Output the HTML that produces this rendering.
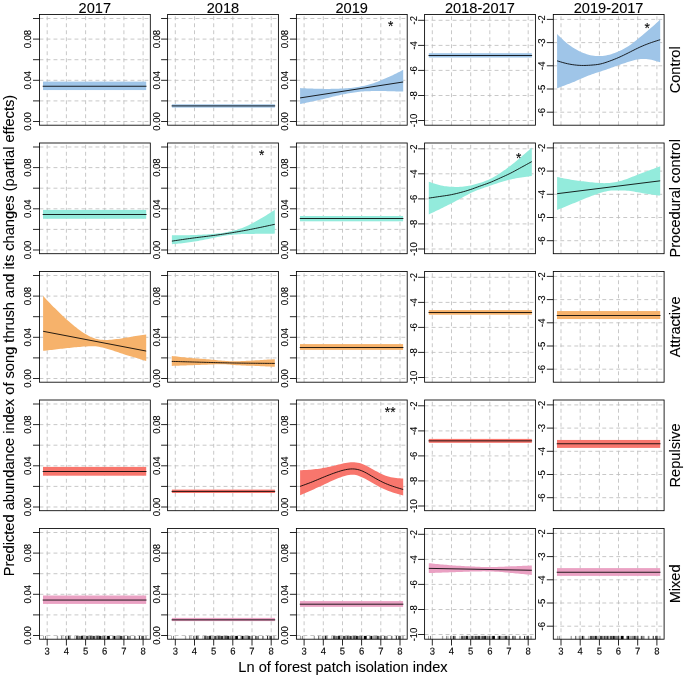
<!DOCTYPE html>
<html lang="en">
<head>
<meta charset="utf-8">
<title>Predicted abundance index of song thrush</title>
<style>
html,body{margin:0;padding:0;background:#fff;}
svg{display:block;}
text{font-family:"Liberation Sans",Arial,Helvetica,sans-serif;fill:#000;}
.t{font-size:15.1px;text-anchor:middle;stroke:#000;stroke-width:0.1;}
.a{font-size:10px;text-anchor:middle;stroke:#000;stroke-width:0.12;}
.g{stroke:#bebebe;stroke-width:0.85;stroke-dasharray:3.9 3.1;fill:none;}
.b{stroke:#000;stroke-width:0.85;fill:none;}
.k{stroke:#000;stroke-width:0.85;fill:none;}
.l{stroke:#000;stroke-width:0.85;fill:none;stroke-linejoin:round;}
</style>
</head>
<body>
<svg width="685" height="677" viewBox="0 0 685 677">
<rect width="685" height="677" fill="#fff"/>
<g>
<path class="g" d="M47.2,125.2 V14.5 M66.4,125.2 V14.5 M85.6,125.2 V14.5 M104.7,125.2 V14.5 M123.9,125.2 V14.5 M143.1,125.2 V14.5 M39.5,18.5 H150.3 M39.5,39.1 H150.3 M39.5,59.7 H150.3 M39.5,80.3 H150.3 M39.5,100.9 H150.3 M39.5,121.5 H150.3"/>
<rect x="43.0" y="81.60" width="103.2" height="8.45" fill="#9fc5e8"/>
<path class="l" d="M42.7,86.25 L146.5,86.25"/>
<rect class="b" x="39.5" y="14.5" width="110.8" height="110.7"/>
<path class="k" d="M33.0,18.5 H39.5 M33.0,39.1 H39.5 M33.0,59.7 H39.5 M33.0,80.3 H39.5 M33.0,100.9 H39.5 M33.0,121.5 H39.5"/>
<text class="a" transform="translate(30.9,39.1) rotate(-89.9) scale(0.948,1)">0.08</text>
<text class="a" transform="translate(30.9,80.3) rotate(-89.9) scale(0.948,1)">0.04</text>
<text class="a" transform="translate(30.9,121.5) rotate(-89.9) scale(0.948,1)">0.00</text>
<text class="t" transform="translate(94.8,12.9) scale(0.967,1)">2017</text>
</g>
<g>
<path class="g" d="M175.3,125.2 V14.5 M194.5,125.2 V14.5 M213.7,125.2 V14.5 M232.8,125.2 V14.5 M252.0,125.2 V14.5 M271.2,125.2 V14.5 M167.6,18.5 H278.4 M167.6,39.1 H278.4 M167.6,59.7 H278.4 M167.6,80.3 H278.4 M167.6,100.9 H278.4 M167.6,121.5 H278.4"/>
<rect x="171.9" y="104.30" width="103.0" height="3.30" fill="#9fc5e8"/>
<path class="l" d="M171.6,105.90 L275.2,105.90"/>
<rect class="b" x="167.6" y="14.5" width="110.8" height="110.7"/>
<path class="k" d="M161.1,18.5 H167.6 M161.1,39.1 H167.6 M161.1,59.7 H167.6 M161.1,80.3 H167.6 M161.1,100.9 H167.6 M161.1,121.5 H167.6"/>
<text class="a" transform="translate(159.9,39.1) rotate(-89.9) scale(0.948,1)">0.08</text>
<text class="a" transform="translate(159.9,80.3) rotate(-89.9) scale(0.948,1)">0.04</text>
<text class="a" transform="translate(159.9,121.5) rotate(-89.9) scale(0.948,1)">0.00</text>
<text class="t" transform="translate(222.9,12.9) scale(0.967,1)">2018</text>
</g>
<g>
<path class="g" d="M304.1,125.2 V14.5 M323.3,125.2 V14.5 M342.5,125.2 V14.5 M361.6,125.2 V14.5 M380.8,125.2 V14.5 M400.0,125.2 V14.5 M296.4,18.5 H407.2 M296.4,39.1 H407.2 M296.4,59.7 H407.2 M296.4,80.3 H407.2 M296.4,100.9 H407.2 M296.4,121.5 H407.2"/>
<path fill="#9fc5e8" d="M300.1,88.11 L301.8,88.19 L303.6,88.26 L305.3,88.34 L307.0,88.41 L308.8,88.48 L310.5,88.54 L312.3,88.61 L314.0,88.66 L315.8,88.72 L317.5,88.76 L319.3,88.80 L321.0,88.84 L322.8,88.86 L324.5,88.88 L326.3,88.89 L328.0,88.89 L329.8,88.88 L331.5,88.86 L333.3,88.83 L335.0,88.79 L336.8,88.74 L338.5,88.68 L340.3,88.60 L342.0,88.52 L343.8,88.43 L345.5,88.32 L347.2,88.20 L349.0,88.06 L350.7,87.90 L352.5,87.71 L354.2,87.49 L356.0,87.24 L357.7,86.98 L359.5,86.68 L361.2,86.37 L363.0,86.03 L364.7,85.66 L366.5,85.26 L368.2,84.83 L370.0,84.35 L371.7,83.82 L373.5,83.24 L375.2,82.61 L377.0,81.95 L378.7,81.26 L380.5,80.55 L382.2,79.83 L383.9,79.09 L385.7,78.34 L387.4,77.57 L389.2,76.78 L390.9,75.97 L392.7,75.14 L394.4,74.29 L396.2,73.43 L397.9,72.55 L399.7,71.66 L401.4,70.77 L403.2,69.87 L403.2,91.61 L401.4,91.56 L399.7,91.52 L397.9,91.47 L396.2,91.42 L394.4,91.37 L392.7,91.31 L390.9,91.26 L389.2,91.20 L387.4,91.15 L385.7,91.09 L383.9,91.05 L382.2,91.02 L380.5,90.99 L378.7,90.99 L377.0,90.99 L375.2,91.01 L373.5,91.05 L371.7,91.08 L370.0,91.13 L368.2,91.19 L366.5,91.26 L364.7,91.35 L363.0,91.46 L361.2,91.60 L359.5,91.77 L357.7,91.96 L356.0,92.18 L354.2,92.43 L352.5,92.69 L350.7,92.97 L349.0,93.27 L347.2,93.58 L345.5,93.91 L343.8,94.25 L342.0,94.61 L340.3,94.99 L338.5,95.38 L336.8,95.78 L335.0,96.19 L333.3,96.61 L331.5,97.03 L329.8,97.45 L328.0,97.88 L326.3,98.30 L324.5,98.72 L322.8,99.13 L321.0,99.53 L319.3,99.93 L317.5,100.33 L315.8,100.72 L314.0,101.10 L312.3,101.48 L310.5,101.86 L308.8,102.23 L307.0,102.60 L305.3,102.96 L303.6,103.33 L301.8,103.69 L300.1,104.05 Z"/>
<path class="l" d="M300.1,97.91 L403.2,81.97"/>
<rect class="b" x="296.4" y="14.5" width="110.8" height="110.7"/>
<path class="k" d="M289.9,18.5 H296.4 M289.9,39.1 H296.4 M289.9,59.7 H296.4 M289.9,80.3 H296.4 M289.9,100.9 H296.4 M289.9,121.5 H296.4"/>
<text class="a" transform="translate(288.1,39.1) rotate(-89.9) scale(0.948,1)">0.08</text>
<text class="a" transform="translate(288.1,80.3) rotate(-89.9) scale(0.948,1)">0.04</text>
<text class="a" transform="translate(288.1,121.5) rotate(-89.9) scale(0.948,1)">0.00</text>
<text class="t" transform="translate(351.7,12.9) scale(0.967,1)">2019</text>
<text class="t" style="font-size:14.2px" transform="translate(390.6,31.1) scale(0.967,1)">*</text>
</g>
<g>
<path class="g" d="M432.3,125.2 V14.5 M451.5,125.2 V14.5 M470.7,125.2 V14.5 M489.8,125.2 V14.5 M509.0,125.2 V14.5 M528.2,125.2 V14.5 M424.6,20.3 H535.5 M424.6,45.4 H535.5 M424.6,70.4 H535.5 M424.6,95.5 H535.5 M424.6,120.5 H535.5"/>
<rect x="428.8" y="53.20" width="103.0" height="4.30" fill="#9fc5e8"/>
<path class="l" d="M428.5,55.50 L532.1,55.50"/>
<rect class="b" x="424.6" y="14.5" width="110.8" height="110.7"/>
<path class="k" d="M418.1,20.3 H424.6 M418.1,45.4 H424.6 M418.1,70.4 H424.6 M418.1,95.5 H424.6 M418.1,120.5 H424.6"/>
<text class="a" transform="translate(416.9,20.3) rotate(-89.9) scale(0.948,1)">-2</text>
<text class="a" transform="translate(416.9,45.4) rotate(-89.9) scale(0.948,1)">-4</text>
<text class="a" transform="translate(416.9,70.4) rotate(-89.9) scale(0.948,1)">-6</text>
<text class="a" transform="translate(416.9,95.5) rotate(-89.9) scale(0.948,1)">-8</text>
<text class="a" transform="translate(416.9,120.5) rotate(-89.9) scale(0.948,1)">-10</text>
<text class="t" transform="translate(479.9,12.9) scale(0.967,1)">2018-2017</text>
</g>
<g>
<path class="g" d="M561.0,125.2 V14.5 M580.2,125.2 V14.5 M599.4,125.2 V14.5 M618.5,125.2 V14.5 M637.7,125.2 V14.5 M656.9,125.2 V14.5 M553.3,19.4 H664.1 M553.3,42.6 H664.1 M553.3,65.8 H664.1 M553.3,89.0 H664.1 M553.3,112.2 H664.1"/>
<path fill="#9fc5e8" d="M557.1,33.96 L558.8,35.70 L560.6,37.42 L562.3,39.09 L564.0,40.70 L565.8,42.22 L567.5,43.64 L569.3,44.97 L571.0,46.22 L572.8,47.39 L574.5,48.50 L576.3,49.53 L578.0,50.50 L579.8,51.39 L581.5,52.21 L583.3,52.95 L585.0,53.61 L586.8,54.20 L588.5,54.70 L590.3,55.13 L592.0,55.47 L593.8,55.74 L595.5,55.92 L597.3,56.03 L599.0,56.06 L600.8,56.01 L602.5,55.89 L604.2,55.69 L606.0,55.42 L607.7,55.07 L609.5,54.65 L611.2,54.15 L613.0,53.59 L614.7,52.96 L616.5,52.27 L618.2,51.54 L620.0,50.75 L621.7,49.92 L623.5,49.03 L625.2,48.07 L627.0,47.03 L628.7,45.91 L630.5,44.70 L632.2,43.42 L634.0,42.07 L635.7,40.69 L637.5,39.28 L639.2,37.86 L640.9,36.44 L642.7,35.01 L644.4,33.56 L646.2,32.10 L647.9,30.61 L649.7,29.10 L651.4,27.55 L653.2,25.99 L654.9,24.40 L656.7,22.79 L658.4,21.18 L660.2,19.56 L660.2,62.19 L658.4,61.68 L656.7,61.18 L654.9,60.70 L653.2,60.26 L651.4,59.87 L649.7,59.53 L647.9,59.26 L646.2,59.06 L644.4,58.94 L642.7,58.92 L640.9,58.99 L639.2,59.16 L637.5,59.42 L635.7,59.76 L634.0,60.18 L632.2,60.66 L630.5,61.18 L628.7,61.73 L627.0,62.30 L625.2,62.88 L623.5,63.47 L621.7,64.07 L620.0,64.69 L618.2,65.31 L616.5,65.93 L614.7,66.57 L613.0,67.20 L611.2,67.83 L609.5,68.46 L607.7,69.07 L606.0,69.68 L604.2,70.28 L602.5,70.87 L600.8,71.45 L599.0,72.01 L597.3,72.56 L595.5,73.12 L593.8,73.69 L592.0,74.29 L590.3,74.92 L588.5,75.58 L586.8,76.28 L585.0,77.00 L583.3,77.75 L581.5,78.52 L579.8,79.30 L578.0,80.09 L576.3,80.87 L574.5,81.63 L572.8,82.36 L571.0,83.05 L569.3,83.71 L567.5,84.35 L565.8,84.99 L564.0,85.63 L562.3,86.29 L560.6,86.96 L558.8,87.63 L557.1,88.31 Z"/>
<path class="l" d="M557.1,60.85 L558.8,61.37 L560.6,61.89 L562.3,62.40 L564.0,62.87 L565.8,63.32 L567.5,63.72 L569.3,64.08 L571.0,64.40 L572.8,64.68 L574.5,64.92 L576.3,65.11 L578.0,65.27 L579.8,65.37 L581.5,65.44 L583.3,65.46 L585.0,65.44 L586.8,65.39 L588.5,65.31 L590.3,65.20 L592.0,65.07 L593.8,64.92 L595.5,64.75 L597.3,64.53 L599.0,64.24 L600.8,63.88 L602.5,63.44 L604.2,62.94 L606.0,62.38 L607.7,61.78 L609.5,61.16 L611.2,60.51 L613.0,59.84 L614.7,59.15 L616.5,58.43 L618.2,57.68 L620.0,56.90 L621.7,56.10 L623.5,55.27 L625.2,54.42 L627.0,53.55 L628.7,52.67 L630.5,51.78 L632.2,50.89 L634.0,50.01 L635.7,49.13 L637.5,48.28 L639.2,47.46 L640.9,46.67 L642.7,45.91 L644.4,45.17 L646.2,44.47 L647.9,43.80 L649.7,43.15 L651.4,42.54 L653.2,41.95 L654.9,41.37 L656.7,40.82 L658.4,40.27 L660.2,39.72"/>
<rect class="b" x="553.3" y="14.5" width="110.8" height="110.7"/>
<path class="k" d="M546.8,19.4 H553.3 M546.8,42.6 H553.3 M546.8,65.8 H553.3 M546.8,89.0 H553.3 M546.8,112.2 H553.3"/>
<text class="a" transform="translate(545.1,19.4) rotate(-89.9) scale(0.948,1)">-2</text>
<text class="a" transform="translate(545.1,42.6) rotate(-89.9) scale(0.948,1)">-3</text>
<text class="a" transform="translate(545.1,65.8) rotate(-89.9) scale(0.948,1)">-4</text>
<text class="a" transform="translate(545.1,89.0) rotate(-89.9) scale(0.948,1)">-5</text>
<text class="a" transform="translate(545.1,112.2) rotate(-89.9) scale(0.948,1)">-6</text>
<text class="t" transform="translate(608.6,12.9) scale(0.967,1)">2019-2017</text>
<text class="t" style="font-size:14.2px" transform="translate(647.2,33.0) scale(0.967,1)">*</text>
<text class="t" transform="translate(679.8,69.8) rotate(-90) scale(0.967,1)">Control</text>
</g>
<g>
<path class="g" d="M47.2,253.7 V143.0 M66.4,253.7 V143.0 M85.6,253.7 V143.0 M104.7,253.7 V143.0 M123.9,253.7 V143.0 M143.1,253.7 V143.0 M39.5,147.0 H150.3 M39.5,167.6 H150.3 M39.5,188.2 H150.3 M39.5,208.8 H150.3 M39.5,229.4 H150.3 M39.5,250.0 H150.3"/>
<rect x="43.0" y="209.90" width="103.2" height="8.90" fill="#93ebdc"/>
<path class="l" d="M42.7,214.50 L146.5,214.50"/>
<rect class="b" x="39.5" y="143.0" width="110.8" height="110.7"/>
<path class="k" d="M33.0,147.0 H39.5 M33.0,167.6 H39.5 M33.0,188.2 H39.5 M33.0,208.8 H39.5 M33.0,229.4 H39.5 M33.0,250.0 H39.5"/>
<text class="a" transform="translate(30.9,167.6) rotate(-89.9) scale(0.948,1)">0.08</text>
<text class="a" transform="translate(30.9,208.8) rotate(-89.9) scale(0.948,1)">0.04</text>
<text class="a" transform="translate(30.9,250.0) rotate(-89.9) scale(0.948,1)">0.00</text>
</g>
<g>
<path class="g" d="M175.3,253.7 V143.0 M194.5,253.7 V143.0 M213.7,253.7 V143.0 M232.8,253.7 V143.0 M252.0,253.7 V143.0 M271.2,253.7 V143.0 M167.6,147.0 H278.4 M167.6,167.6 H278.4 M167.6,188.2 H278.4 M167.6,208.8 H278.4 M167.6,229.4 H278.4 M167.6,250.0 H278.4"/>
<path fill="#93ebdc" d="M171.9,235.20 L173.7,235.21 L175.4,235.21 L177.2,235.21 L178.9,235.21 L180.6,235.21 L182.4,235.20 L184.1,235.19 L185.9,235.18 L187.6,235.15 L189.4,235.13 L191.1,235.09 L192.8,235.05 L194.6,235.00 L196.3,234.93 L198.1,234.86 L199.8,234.79 L201.6,234.70 L203.3,234.60 L205.0,234.50 L206.8,234.39 L208.5,234.27 L210.3,234.14 L212.0,234.00 L213.8,233.86 L215.5,233.71 L217.2,233.54 L219.0,233.36 L220.7,233.15 L222.5,232.92 L224.2,232.65 L226.0,232.34 L227.7,232.00 L229.4,231.62 L231.2,231.21 L232.9,230.79 L234.7,230.35 L236.4,229.89 L238.2,229.39 L239.9,228.83 L241.6,228.20 L243.4,227.52 L245.1,226.78 L246.9,225.99 L248.6,225.16 L250.4,224.30 L252.1,223.41 L253.8,222.49 L255.6,221.55 L257.3,220.59 L259.1,219.60 L260.8,218.59 L262.6,217.56 L264.3,216.50 L266.0,215.42 L267.8,214.32 L269.5,213.20 L271.3,212.08 L273.0,210.94 L274.8,209.80 L274.8,233.61 L273.0,233.63 L271.3,233.65 L269.5,233.66 L267.8,233.69 L266.0,233.71 L264.3,233.73 L262.6,233.76 L260.8,233.78 L259.1,233.81 L257.3,233.83 L255.6,233.86 L253.8,233.88 L252.1,233.89 L250.4,233.91 L248.6,233.92 L246.9,233.94 L245.1,233.97 L243.4,234.01 L241.6,234.07 L239.9,234.15 L238.2,234.26 L236.4,234.40 L234.7,234.55 L232.9,234.72 L231.2,234.90 L229.4,235.09 L227.7,235.30 L226.0,235.54 L224.2,235.81 L222.5,236.10 L220.7,236.42 L219.0,236.75 L217.2,237.10 L215.5,237.45 L213.8,237.82 L212.0,238.18 L210.3,238.54 L208.5,238.90 L206.8,239.26 L205.0,239.61 L203.3,239.95 L201.6,240.29 L199.8,240.61 L198.1,240.93 L196.3,241.23 L194.6,241.52 L192.8,241.79 L191.1,242.05 L189.4,242.30 L187.6,242.54 L185.9,242.76 L184.1,242.97 L182.4,243.18 L180.6,243.38 L178.9,243.57 L177.2,243.76 L175.4,243.94 L173.7,244.12 L171.9,244.30 Z"/>
<path class="l" d="M171.9,241.12 L173.7,240.85 L175.4,240.59 L177.2,240.33 L178.9,240.07 L180.6,239.81 L182.4,239.55 L184.1,239.29 L185.9,239.04 L187.6,238.79 L189.4,238.55 L191.1,238.31 L192.8,238.08 L194.6,237.85 L196.3,237.62 L198.1,237.40 L199.8,237.19 L201.6,236.97 L203.3,236.76 L205.0,236.55 L206.8,236.34 L208.5,236.12 L210.3,235.90 L212.0,235.68 L213.8,235.45 L215.5,235.22 L217.2,234.98 L219.0,234.73 L220.7,234.48 L222.5,234.22 L224.2,233.96 L226.0,233.69 L227.7,233.42 L229.4,233.14 L231.2,232.86 L232.9,232.57 L234.7,232.28 L236.4,231.98 L238.2,231.68 L239.9,231.37 L241.6,231.06 L243.4,230.74 L245.1,230.42 L246.9,230.09 L248.6,229.76 L250.4,229.42 L252.1,229.08 L253.8,228.73 L255.6,228.38 L257.3,228.02 L259.1,227.66 L260.8,227.30 L262.6,226.93 L264.3,226.56 L266.0,226.19 L267.8,225.82 L269.5,225.44 L271.3,225.07 L273.0,224.69 L274.8,224.31"/>
<rect class="b" x="167.6" y="143.0" width="110.8" height="110.7"/>
<path class="k" d="M161.1,147.0 H167.6 M161.1,167.6 H167.6 M161.1,188.2 H167.6 M161.1,208.8 H167.6 M161.1,229.4 H167.6 M161.1,250.0 H167.6"/>
<text class="a" transform="translate(159.9,167.6) rotate(-89.9) scale(0.948,1)">0.08</text>
<text class="a" transform="translate(159.9,208.8) rotate(-89.9) scale(0.948,1)">0.04</text>
<text class="a" transform="translate(159.9,250.0) rotate(-89.9) scale(0.948,1)">0.00</text>
<text class="t" style="font-size:14.2px" transform="translate(261.6,160.1) scale(0.967,1)">*</text>
</g>
<g>
<path class="g" d="M304.1,253.7 V143.0 M323.3,253.7 V143.0 M342.5,253.7 V143.0 M361.6,253.7 V143.0 M380.8,253.7 V143.0 M400.0,253.7 V143.0 M296.4,147.0 H407.2 M296.4,167.6 H407.2 M296.4,188.2 H407.2 M296.4,208.8 H407.2 M296.4,229.4 H407.2 M296.4,250.0 H407.2"/>
<rect x="300.0" y="216.00" width="103.1" height="5.30" fill="#93ebdc"/>
<path class="l" d="M299.7,218.50 L403.4,218.50"/>
<rect class="b" x="296.4" y="143.0" width="110.8" height="110.7"/>
<path class="k" d="M289.9,147.0 H296.4 M289.9,167.6 H296.4 M289.9,188.2 H296.4 M289.9,208.8 H296.4 M289.9,229.4 H296.4 M289.9,250.0 H296.4"/>
<text class="a" transform="translate(288.1,167.6) rotate(-89.9) scale(0.948,1)">0.08</text>
<text class="a" transform="translate(288.1,208.8) rotate(-89.9) scale(0.948,1)">0.04</text>
<text class="a" transform="translate(288.1,250.0) rotate(-89.9) scale(0.948,1)">0.00</text>
</g>
<g>
<path class="g" d="M432.3,253.7 V143.0 M451.5,253.7 V143.0 M470.7,253.7 V143.0 M489.8,253.7 V143.0 M509.0,253.7 V143.0 M528.2,253.7 V143.0 M424.6,148.8 H535.5 M424.6,173.8 H535.5 M424.6,198.9 H535.5 M424.6,223.9 H535.5 M424.6,249.0 H535.5"/>
<path fill="#93ebdc" d="M428.8,181.78 L430.6,182.35 L432.3,182.90 L434.1,183.45 L435.8,183.99 L437.5,184.51 L439.3,184.99 L441.0,185.43 L442.8,185.81 L444.5,186.13 L446.3,186.37 L448.0,186.55 L449.8,186.68 L451.5,186.77 L453.2,186.85 L455.0,186.89 L456.7,186.91 L458.5,186.89 L460.2,186.82 L462.0,186.71 L463.7,186.55 L465.5,186.35 L467.2,186.09 L468.9,185.79 L470.7,185.43 L472.4,185.02 L474.2,184.57 L475.9,184.08 L477.7,183.56 L479.4,183.02 L481.2,182.46 L482.9,181.88 L484.6,181.27 L486.4,180.61 L488.1,179.89 L489.9,179.10 L491.6,178.22 L493.4,177.28 L495.1,176.27 L496.9,175.20 L498.6,174.10 L500.3,172.96 L502.1,171.80 L503.8,170.60 L505.6,169.38 L507.3,168.12 L509.1,166.82 L510.8,165.48 L512.6,164.11 L514.3,162.70 L516.0,161.26 L517.8,159.80 L519.5,158.32 L521.3,156.82 L523.0,155.30 L524.8,153.78 L526.5,152.24 L528.3,150.70 L530.0,149.15 L531.8,147.60 L531.8,176.02 L530.0,176.24 L528.3,176.47 L526.5,176.70 L524.8,176.93 L523.0,177.18 L521.3,177.45 L519.5,177.73 L517.8,178.04 L516.0,178.36 L514.3,178.70 L512.6,179.07 L510.8,179.46 L509.1,179.87 L507.3,180.30 L505.6,180.76 L503.8,181.24 L502.1,181.75 L500.3,182.28 L498.6,182.84 L496.9,183.42 L495.1,184.01 L493.4,184.61 L491.6,185.22 L489.9,185.82 L488.1,186.40 L486.4,186.98 L484.6,187.57 L482.9,188.16 L481.2,188.77 L479.4,189.40 L477.7,190.06 L475.9,190.76 L474.2,191.49 L472.4,192.27 L470.7,193.11 L468.9,193.99 L467.2,194.92 L465.5,195.87 L463.7,196.84 L462.0,197.81 L460.2,198.76 L458.5,199.69 L456.7,200.61 L455.0,201.51 L453.2,202.40 L451.5,203.28 L449.8,204.15 L448.0,205.02 L446.3,205.89 L444.5,206.77 L442.8,207.64 L441.0,208.52 L439.3,209.40 L437.5,210.27 L435.8,211.12 L434.1,211.96 L432.3,212.79 L430.6,213.61 L428.8,214.43 Z"/>
<path class="l" d="M428.8,198.10 L430.6,197.84 L432.3,197.58 L434.1,197.33 L435.8,197.07 L437.5,196.81 L439.3,196.56 L441.0,196.31 L442.8,196.05 L444.5,195.80 L446.3,195.54 L448.0,195.27 L449.8,194.97 L451.5,194.64 L453.2,194.28 L455.0,193.89 L456.7,193.47 L458.5,193.03 L460.2,192.57 L462.0,192.10 L463.7,191.61 L465.5,191.11 L467.2,190.58 L468.9,190.04 L470.7,189.46 L472.4,188.86 L474.2,188.23 L475.9,187.59 L477.7,186.95 L479.4,186.32 L481.2,185.70 L482.9,185.09 L484.6,184.48 L486.4,183.86 L488.1,183.23 L489.9,182.55 L491.6,181.84 L493.4,181.09 L495.1,180.31 L496.9,179.52 L498.6,178.73 L500.3,177.94 L502.1,177.15 L503.8,176.37 L505.6,175.57 L507.3,174.76 L509.1,173.92 L510.8,173.05 L512.6,172.14 L514.3,171.22 L516.0,170.28 L517.8,169.32 L519.5,168.36 L521.3,167.39 L523.0,166.43 L524.8,165.47 L526.5,164.50 L528.3,163.54 L530.0,162.58 L531.8,161.62"/>
<rect class="b" x="424.6" y="143.0" width="110.8" height="110.7"/>
<path class="k" d="M418.1,148.8 H424.6 M418.1,173.8 H424.6 M418.1,198.9 H424.6 M418.1,223.9 H424.6 M418.1,249.0 H424.6"/>
<text class="a" transform="translate(416.9,148.8) rotate(-89.9) scale(0.948,1)">-2</text>
<text class="a" transform="translate(416.9,173.8) rotate(-89.9) scale(0.948,1)">-4</text>
<text class="a" transform="translate(416.9,198.9) rotate(-89.9) scale(0.948,1)">-6</text>
<text class="a" transform="translate(416.9,223.9) rotate(-89.9) scale(0.948,1)">-8</text>
<text class="a" transform="translate(416.9,249.0) rotate(-89.9) scale(0.948,1)">-10</text>
<text class="t" style="font-size:14.2px" transform="translate(518.6,163.0) scale(0.967,1)">*</text>
</g>
<g>
<path class="g" d="M561.0,253.7 V143.0 M580.2,253.7 V143.0 M599.4,253.7 V143.0 M618.5,253.7 V143.0 M637.7,253.7 V143.0 M656.9,253.7 V143.0 M553.3,147.9 H664.1 M553.3,171.1 H664.1 M553.3,194.3 H664.1 M553.3,217.5 H664.1 M553.3,240.7 H664.1"/>
<path fill="#93ebdc" d="M557.1,176.98 L558.8,177.34 L560.6,177.69 L562.3,178.04 L564.0,178.38 L565.8,178.71 L567.5,179.03 L569.3,179.34 L571.0,179.64 L572.8,179.92 L574.5,180.18 L576.3,180.44 L578.0,180.68 L579.8,180.92 L581.5,181.15 L583.3,181.37 L585.0,181.58 L586.8,181.79 L588.5,181.98 L590.3,182.18 L592.0,182.36 L593.8,182.53 L595.5,182.69 L597.3,182.84 L599.0,182.96 L600.8,183.05 L602.5,183.11 L604.2,183.13 L606.0,183.10 L607.7,183.03 L609.5,182.92 L611.2,182.75 L613.0,182.53 L614.7,182.26 L616.5,181.93 L618.2,181.56 L620.0,181.12 L621.7,180.63 L623.5,180.09 L625.2,179.51 L627.0,178.89 L628.7,178.24 L630.5,177.56 L632.2,176.85 L634.0,176.14 L635.7,175.43 L637.5,174.73 L639.2,174.06 L640.9,173.40 L642.7,172.76 L644.4,172.13 L646.2,171.50 L647.9,170.87 L649.7,170.23 L651.4,169.58 L653.2,168.93 L654.9,168.26 L656.7,167.59 L658.4,166.91 L660.2,166.23 L660.2,195.61 L658.4,195.40 L656.7,195.19 L654.9,194.97 L653.2,194.75 L651.4,194.52 L649.7,194.27 L647.9,194.02 L646.2,193.74 L644.4,193.46 L642.7,193.16 L640.9,192.86 L639.2,192.55 L637.5,192.23 L635.7,191.90 L634.0,191.59 L632.2,191.30 L630.5,191.04 L628.7,190.83 L627.0,190.67 L625.2,190.56 L623.5,190.49 L621.7,190.45 L620.0,190.43 L618.2,190.42 L616.5,190.41 L614.7,190.43 L613.0,190.49 L611.2,190.60 L609.5,190.78 L607.7,191.04 L606.0,191.39 L604.2,191.80 L602.5,192.26 L600.8,192.78 L599.0,193.33 L597.3,193.91 L595.5,194.52 L593.8,195.15 L592.0,195.80 L590.3,196.46 L588.5,197.14 L586.8,197.84 L585.0,198.54 L583.3,199.26 L581.5,199.98 L579.8,200.70 L578.0,201.43 L576.3,202.16 L574.5,202.89 L572.8,203.62 L571.0,204.35 L569.3,205.07 L567.5,205.79 L565.8,206.50 L564.0,207.21 L562.3,207.91 L560.6,208.61 L558.8,209.31 L557.1,210.01 Z"/>
<path class="l" d="M557.1,193.69 L660.2,180.82"/>
<rect class="b" x="553.3" y="143.0" width="110.8" height="110.7"/>
<path class="k" d="M546.8,147.9 H553.3 M546.8,171.1 H553.3 M546.8,194.3 H553.3 M546.8,217.5 H553.3 M546.8,240.7 H553.3"/>
<text class="a" transform="translate(545.1,147.9) rotate(-89.9) scale(0.948,1)">-2</text>
<text class="a" transform="translate(545.1,171.1) rotate(-89.9) scale(0.948,1)">-3</text>
<text class="a" transform="translate(545.1,194.3) rotate(-89.9) scale(0.948,1)">-4</text>
<text class="a" transform="translate(545.1,217.5) rotate(-89.9) scale(0.948,1)">-5</text>
<text class="a" transform="translate(545.1,240.7) rotate(-89.9) scale(0.948,1)">-6</text>
<text class="t" transform="translate(679.8,198.3) rotate(-90) scale(0.967,1)">Procedural control</text>
</g>
<g>
<path class="g" d="M47.2,382.2 V271.5 M66.4,382.2 V271.5 M85.6,382.2 V271.5 M104.7,382.2 V271.5 M123.9,382.2 V271.5 M143.1,382.2 V271.5 M39.5,275.5 H150.3 M39.5,296.1 H150.3 M39.5,316.7 H150.3 M39.5,337.3 H150.3 M39.5,357.9 H150.3 M39.5,378.5 H150.3"/>
<path fill="#f6b26b" d="M43.1,295.76 L44.8,297.71 L46.6,299.64 L48.3,301.53 L50.0,303.37 L51.8,305.15 L53.5,306.89 L55.3,308.61 L57.0,310.32 L58.8,312.03 L60.5,313.74 L62.3,315.43 L64.0,317.10 L65.8,318.74 L67.5,320.32 L69.3,321.86 L71.0,323.35 L72.8,324.80 L74.5,326.21 L76.3,327.59 L78.0,328.92 L79.8,330.21 L81.5,331.45 L83.3,332.63 L85.0,333.75 L86.8,334.79 L88.5,335.76 L90.2,336.63 L92.0,337.41 L93.7,338.08 L95.5,338.64 L97.2,339.09 L99.0,339.43 L100.7,339.67 L102.5,339.83 L104.2,339.92 L106.0,339.93 L107.7,339.90 L109.5,339.81 L111.2,339.68 L113.0,339.52 L114.7,339.33 L116.5,339.12 L118.2,338.89 L120.0,338.64 L121.7,338.38 L123.5,338.11 L125.2,337.83 L126.9,337.54 L128.7,337.24 L130.4,336.94 L132.2,336.65 L133.9,336.36 L135.7,336.08 L137.4,335.81 L139.2,335.54 L140.9,335.29 L142.7,335.04 L144.4,334.80 L146.2,334.55 L146.2,361.05 L144.4,360.50 L142.7,359.95 L140.9,359.41 L139.2,358.87 L137.4,358.33 L135.7,357.81 L133.9,357.29 L132.2,356.78 L130.4,356.27 L128.7,355.76 L126.9,355.23 L125.2,354.69 L123.5,354.12 L121.7,353.54 L120.0,352.94 L118.2,352.33 L116.5,351.73 L114.7,351.14 L113.0,350.57 L111.2,350.02 L109.5,349.49 L107.7,348.98 L106.0,348.49 L104.2,348.01 L102.5,347.55 L100.7,347.13 L99.0,346.77 L97.2,346.48 L95.5,346.28 L93.7,346.19 L92.0,346.19 L90.2,346.24 L88.5,346.31 L86.8,346.40 L85.0,346.51 L83.3,346.62 L81.5,346.75 L79.8,346.89 L78.0,347.03 L76.3,347.19 L74.5,347.35 L72.8,347.52 L71.0,347.70 L69.3,347.88 L67.5,348.07 L65.8,348.27 L64.0,348.47 L62.3,348.67 L60.5,348.87 L58.8,349.08 L57.0,349.29 L55.3,349.49 L53.5,349.69 L51.8,349.90 L50.0,350.09 L48.3,350.29 L46.6,350.49 L44.8,350.68 L43.1,350.87 Z"/>
<path class="l" d="M43.1,331.29 L146.2,351.07"/>
<rect class="b" x="39.5" y="271.5" width="110.8" height="110.7"/>
<path class="k" d="M33.0,275.5 H39.5 M33.0,296.1 H39.5 M33.0,316.7 H39.5 M33.0,337.3 H39.5 M33.0,357.9 H39.5 M33.0,378.5 H39.5"/>
<text class="a" transform="translate(30.9,296.1) rotate(-89.9) scale(0.948,1)">0.08</text>
<text class="a" transform="translate(30.9,337.3) rotate(-89.9) scale(0.948,1)">0.04</text>
<text class="a" transform="translate(30.9,378.5) rotate(-89.9) scale(0.948,1)">0.00</text>
</g>
<g>
<path class="g" d="M175.3,382.2 V271.5 M194.5,382.2 V271.5 M213.7,382.2 V271.5 M232.8,382.2 V271.5 M252.0,382.2 V271.5 M271.2,382.2 V271.5 M167.6,275.5 H278.4 M167.6,296.1 H278.4 M167.6,316.7 H278.4 M167.6,337.3 H278.4 M167.6,357.9 H278.4 M167.6,378.5 H278.4"/>
<path fill="#f6b26b" d="M171.8,355.96 L173.6,356.16 L175.3,356.36 L177.1,356.56 L178.8,356.75 L180.5,356.94 L182.3,357.13 L184.0,357.32 L185.8,357.50 L187.5,357.67 L189.3,357.84 L191.0,358.01 L192.8,358.16 L194.5,358.31 L196.2,358.45 L198.0,358.58 L199.7,358.71 L201.5,358.83 L203.2,358.96 L205.0,359.09 L206.7,359.22 L208.5,359.36 L210.2,359.51 L211.9,359.67 L213.7,359.84 L215.4,360.03 L217.2,360.22 L218.9,360.40 L220.7,360.58 L222.4,360.73 L224.2,360.86 L225.9,360.97 L227.6,361.06 L229.4,361.13 L231.1,361.18 L232.9,361.20 L234.6,361.21 L236.4,361.20 L238.1,361.17 L239.9,361.13 L241.6,361.07 L243.3,361.00 L245.1,360.92 L246.8,360.83 L248.6,360.74 L250.3,360.64 L252.1,360.54 L253.8,360.44 L255.6,360.33 L257.3,360.23 L259.0,360.13 L260.8,360.03 L262.5,359.93 L264.3,359.82 L266.0,359.72 L267.8,359.62 L269.5,359.52 L271.3,359.41 L273.0,359.31 L274.8,359.21 L274.8,366.81 L273.0,366.73 L271.3,366.64 L269.5,366.55 L267.8,366.47 L266.0,366.39 L264.3,366.30 L262.5,366.22 L260.8,366.15 L259.0,366.07 L257.3,366.00 L255.6,365.93 L253.8,365.86 L252.1,365.80 L250.3,365.74 L248.6,365.68 L246.8,365.63 L245.1,365.56 L243.3,365.50 L241.6,365.43 L239.9,365.35 L238.1,365.25 L236.4,365.15 L234.6,365.03 L232.9,364.89 L231.1,364.74 L229.4,364.59 L227.6,364.46 L225.9,364.36 L224.2,364.29 L222.4,364.26 L220.7,364.25 L218.9,364.27 L217.2,364.30 L215.4,364.34 L213.7,364.40 L211.9,364.46 L210.2,364.52 L208.5,364.58 L206.7,364.64 L205.0,364.71 L203.2,364.77 L201.5,364.84 L199.7,364.90 L198.0,364.97 L196.2,365.04 L194.5,365.10 L192.8,365.17 L191.0,365.23 L189.3,365.30 L187.5,365.36 L185.8,365.42 L184.0,365.48 L182.3,365.55 L180.5,365.61 L178.8,365.67 L177.1,365.73 L175.3,365.79 L173.6,365.85 L171.8,365.91 Z"/>
<path class="l" d="M171.8,361.40 L173.6,361.45 L175.3,361.50 L177.1,361.54 L178.8,361.59 L180.5,361.64 L182.3,361.69 L184.0,361.74 L185.8,361.79 L187.5,361.84 L189.3,361.89 L191.0,361.94 L192.8,361.99 L194.5,362.04 L196.2,362.09 L198.0,362.14 L199.7,362.19 L201.5,362.24 L203.2,362.28 L205.0,362.33 L206.7,362.38 L208.5,362.43 L210.2,362.48 L211.9,362.52 L213.7,362.57 L215.4,362.61 L217.2,362.65 L218.9,362.70 L220.7,362.74 L222.4,362.78 L224.2,362.81 L225.9,362.85 L227.6,362.88 L229.4,362.92 L231.1,362.95 L232.9,362.98 L234.6,363.01 L236.4,363.04 L238.1,363.06 L239.9,363.09 L241.6,363.11 L243.3,363.14 L245.1,363.16 L246.8,363.18 L248.6,363.20 L250.3,363.22 L252.1,363.23 L253.8,363.25 L255.6,363.27 L257.3,363.28 L259.0,363.30 L260.8,363.31 L262.5,363.33 L264.3,363.34 L266.0,363.35 L267.8,363.37 L269.5,363.38 L271.3,363.39 L273.0,363.40 L274.8,363.41"/>
<rect class="b" x="167.6" y="271.5" width="110.8" height="110.7"/>
<path class="k" d="M161.1,275.5 H167.6 M161.1,296.1 H167.6 M161.1,316.7 H167.6 M161.1,337.3 H167.6 M161.1,357.9 H167.6 M161.1,378.5 H167.6"/>
<text class="a" transform="translate(159.9,296.1) rotate(-89.9) scale(0.948,1)">0.08</text>
<text class="a" transform="translate(159.9,337.3) rotate(-89.9) scale(0.948,1)">0.04</text>
<text class="a" transform="translate(159.9,378.5) rotate(-89.9) scale(0.948,1)">0.00</text>
</g>
<g>
<path class="g" d="M304.1,382.2 V271.5 M323.3,382.2 V271.5 M342.5,382.2 V271.5 M361.6,382.2 V271.5 M380.8,382.2 V271.5 M400.0,382.2 V271.5 M296.4,275.5 H407.2 M296.4,296.1 H407.2 M296.4,316.7 H407.2 M296.4,337.3 H407.2 M296.4,357.9 H407.2 M296.4,378.5 H407.2"/>
<rect x="300.0" y="344.10" width="103.1" height="5.75" fill="#f6b26b"/>
<path class="l" d="M299.7,347.50 L403.4,347.50"/>
<rect class="b" x="296.4" y="271.5" width="110.8" height="110.7"/>
<path class="k" d="M289.9,275.5 H296.4 M289.9,296.1 H296.4 M289.9,316.7 H296.4 M289.9,337.3 H296.4 M289.9,357.9 H296.4 M289.9,378.5 H296.4"/>
<text class="a" transform="translate(288.1,296.1) rotate(-89.9) scale(0.948,1)">0.08</text>
<text class="a" transform="translate(288.1,337.3) rotate(-89.9) scale(0.948,1)">0.04</text>
<text class="a" transform="translate(288.1,378.5) rotate(-89.9) scale(0.948,1)">0.00</text>
</g>
<g>
<path class="g" d="M432.3,382.2 V271.5 M451.5,382.2 V271.5 M470.7,382.2 V271.5 M489.8,382.2 V271.5 M509.0,382.2 V271.5 M528.2,382.2 V271.5 M424.6,277.3 H535.5 M424.6,302.4 H535.5 M424.6,327.4 H535.5 M424.6,352.4 H535.5 M424.6,377.5 H535.5"/>
<rect x="428.8" y="310.10" width="103.0" height="4.60" fill="#f6b26b"/>
<path class="l" d="M428.5,312.50 L532.1,312.50"/>
<rect class="b" x="424.6" y="271.5" width="110.8" height="110.7"/>
<path class="k" d="M418.1,277.3 H424.6 M418.1,302.4 H424.6 M418.1,327.4 H424.6 M418.1,352.4 H424.6 M418.1,377.5 H424.6"/>
<text class="a" transform="translate(416.9,277.3) rotate(-89.9) scale(0.948,1)">-2</text>
<text class="a" transform="translate(416.9,302.4) rotate(-89.9) scale(0.948,1)">-4</text>
<text class="a" transform="translate(416.9,327.4) rotate(-89.9) scale(0.948,1)">-6</text>
<text class="a" transform="translate(416.9,352.4) rotate(-89.9) scale(0.948,1)">-8</text>
<text class="a" transform="translate(416.9,377.5) rotate(-89.9) scale(0.948,1)">-10</text>
</g>
<g>
<path class="g" d="M561.0,382.2 V271.5 M580.2,382.2 V271.5 M599.4,382.2 V271.5 M618.5,382.2 V271.5 M637.7,382.2 V271.5 M656.9,382.2 V271.5 M553.3,276.4 H664.1 M553.3,299.6 H664.1 M553.3,322.8 H664.1 M553.3,346.0 H664.1 M553.3,369.2 H664.1"/>
<rect x="557.0" y="311.05" width="103.2" height="8.00" fill="#f6b26b"/>
<path class="l" d="M556.7,315.50 L660.5,315.50"/>
<rect class="b" x="553.3" y="271.5" width="110.8" height="110.7"/>
<path class="k" d="M546.8,276.4 H553.3 M546.8,299.6 H553.3 M546.8,322.8 H553.3 M546.8,346.0 H553.3 M546.8,369.2 H553.3"/>
<text class="a" transform="translate(545.1,276.4) rotate(-89.9) scale(0.948,1)">-2</text>
<text class="a" transform="translate(545.1,299.6) rotate(-89.9) scale(0.948,1)">-3</text>
<text class="a" transform="translate(545.1,322.8) rotate(-89.9) scale(0.948,1)">-4</text>
<text class="a" transform="translate(545.1,346.0) rotate(-89.9) scale(0.948,1)">-5</text>
<text class="a" transform="translate(545.1,369.2) rotate(-89.9) scale(0.948,1)">-6</text>
<text class="t" transform="translate(679.8,326.9) rotate(-90) scale(0.967,1)">Attractive</text>
</g>
<g>
<path class="g" d="M47.2,510.7 V400.0 M66.4,510.7 V400.0 M85.6,510.7 V400.0 M104.7,510.7 V400.0 M123.9,510.7 V400.0 M143.1,510.7 V400.0 M39.5,404.0 H150.3 M39.5,424.6 H150.3 M39.5,445.2 H150.3 M39.5,465.8 H150.3 M39.5,486.4 H150.3 M39.5,507.0 H150.3"/>
<rect x="43.0" y="466.90" width="103.2" height="8.80" fill="#f8766d"/>
<path class="l" d="M42.7,471.50 L146.5,471.50"/>
<rect class="b" x="39.5" y="400.0" width="110.8" height="110.7"/>
<path class="k" d="M33.0,404.0 H39.5 M33.0,424.6 H39.5 M33.0,445.2 H39.5 M33.0,465.8 H39.5 M33.0,486.4 H39.5 M33.0,507.0 H39.5"/>
<text class="a" transform="translate(30.9,424.6) rotate(-89.9) scale(0.948,1)">0.08</text>
<text class="a" transform="translate(30.9,465.8) rotate(-89.9) scale(0.948,1)">0.04</text>
<text class="a" transform="translate(30.9,507.0) rotate(-89.9) scale(0.948,1)">0.00</text>
</g>
<g>
<path class="g" d="M175.3,510.7 V400.0 M194.5,510.7 V400.0 M213.7,510.7 V400.0 M232.8,510.7 V400.0 M252.0,510.7 V400.0 M271.2,510.7 V400.0 M167.6,404.0 H278.4 M167.6,424.6 H278.4 M167.6,445.2 H278.4 M167.6,465.8 H278.4 M167.6,486.4 H278.4 M167.6,507.0 H278.4"/>
<rect x="171.9" y="489.60" width="103.0" height="3.40" fill="#f8766d"/>
<path class="l" d="M171.6,491.40 L275.2,491.40"/>
<rect class="b" x="167.6" y="400.0" width="110.8" height="110.7"/>
<path class="k" d="M161.1,404.0 H167.6 M161.1,424.6 H167.6 M161.1,445.2 H167.6 M161.1,465.8 H167.6 M161.1,486.4 H167.6 M161.1,507.0 H167.6"/>
<text class="a" transform="translate(159.9,424.6) rotate(-89.9) scale(0.948,1)">0.08</text>
<text class="a" transform="translate(159.9,465.8) rotate(-89.9) scale(0.948,1)">0.04</text>
<text class="a" transform="translate(159.9,507.0) rotate(-89.9) scale(0.948,1)">0.00</text>
</g>
<g>
<path class="g" d="M304.1,510.7 V400.0 M323.3,510.7 V400.0 M342.5,510.7 V400.0 M361.6,510.7 V400.0 M380.8,510.7 V400.0 M400.0,510.7 V400.0 M296.4,404.0 H407.2 M296.4,424.6 H407.2 M296.4,445.2 H407.2 M296.4,465.8 H407.2 M296.4,486.4 H407.2 M296.4,507.0 H407.2"/>
<path fill="#f8766d" d="M300.1,470.27 L301.8,470.18 L303.6,470.09 L305.3,469.99 L307.0,469.88 L308.8,469.76 L310.5,469.63 L312.3,469.47 L314.0,469.30 L315.8,469.10 L317.5,468.89 L319.3,468.64 L321.0,468.38 L322.8,468.09 L324.5,467.78 L326.3,467.44 L328.0,467.09 L329.8,466.71 L331.5,466.31 L333.3,465.90 L335.0,465.47 L336.8,465.03 L338.5,464.59 L340.3,464.15 L342.0,463.74 L343.8,463.35 L345.5,462.99 L347.2,462.69 L349.0,462.45 L350.7,462.28 L352.5,462.21 L354.2,462.24 L356.0,462.38 L357.7,462.63 L359.5,463.01 L361.2,463.52 L363.0,464.16 L364.7,464.92 L366.5,465.77 L368.2,466.70 L370.0,467.68 L371.7,468.67 L373.5,469.67 L375.2,470.66 L377.0,471.62 L378.7,472.55 L380.5,473.43 L382.2,474.24 L383.9,474.98 L385.7,475.65 L387.4,476.25 L389.2,476.78 L390.9,477.22 L392.7,477.58 L394.4,477.87 L396.2,478.08 L397.9,478.24 L399.7,478.36 L401.4,478.45 L403.2,478.53 L403.2,495.43 L401.4,494.95 L399.7,494.46 L397.9,493.97 L396.2,493.46 L394.4,492.93 L392.7,492.38 L390.9,491.80 L389.2,491.19 L387.4,490.53 L385.7,489.83 L383.9,489.09 L382.2,488.29 L380.5,487.43 L378.7,486.51 L377.0,485.54 L375.2,484.55 L373.5,483.53 L371.7,482.50 L370.0,481.48 L368.2,480.48 L366.5,479.50 L364.7,478.57 L363.0,477.70 L361.2,476.89 L359.5,476.17 L357.7,475.56 L356.0,475.09 L354.2,474.78 L352.5,474.66 L350.7,474.74 L349.0,474.97 L347.2,475.33 L345.5,475.78 L343.8,476.29 L342.0,476.85 L340.3,477.44 L338.5,478.08 L336.8,478.76 L335.0,479.49 L333.3,480.25 L331.5,481.05 L329.8,481.86 L328.0,482.70 L326.3,483.54 L324.5,484.37 L322.8,485.20 L321.0,486.01 L319.3,486.81 L317.5,487.59 L315.8,488.37 L314.0,489.14 L312.3,489.91 L310.5,490.67 L308.8,491.44 L307.0,492.20 L305.3,492.96 L303.6,493.72 L301.8,494.48 L300.1,495.24 Z"/>
<path class="l" d="M300.1,486.40 L301.8,485.78 L303.6,485.15 L305.3,484.52 L307.0,483.87 L308.8,483.22 L310.5,482.55 L312.3,481.86 L314.0,481.15 L315.8,480.42 L317.5,479.69 L319.3,478.95 L321.0,478.21 L322.8,477.48 L324.5,476.76 L326.3,476.05 L328.0,475.36 L329.8,474.69 L331.5,474.03 L333.3,473.39 L335.0,472.77 L336.8,472.16 L338.5,471.59 L340.3,471.05 L342.0,470.54 L343.8,470.09 L345.5,469.69 L347.2,469.36 L349.0,469.11 L350.7,468.96 L352.5,468.91 L354.2,468.99 L356.0,469.19 L357.7,469.53 L359.5,469.99 L361.2,470.59 L363.0,471.32 L364.7,472.16 L366.5,473.09 L368.2,474.09 L370.0,475.12 L371.7,476.17 L373.5,477.20 L375.2,478.22 L377.0,479.21 L378.7,480.17 L380.5,481.09 L382.2,481.96 L383.9,482.78 L385.7,483.55 L387.4,484.28 L389.2,484.97 L390.9,485.62 L392.7,486.24 L394.4,486.82 L396.2,487.39 L397.9,487.93 L399.7,488.45 L401.4,488.97 L403.2,489.48"/>
<rect class="b" x="296.4" y="400.0" width="110.8" height="110.7"/>
<path class="k" d="M289.9,404.0 H296.4 M289.9,424.6 H296.4 M289.9,445.2 H296.4 M289.9,465.8 H296.4 M289.9,486.4 H296.4 M289.9,507.0 H296.4"/>
<text class="a" transform="translate(288.1,424.6) rotate(-89.9) scale(0.948,1)">0.08</text>
<text class="a" transform="translate(288.1,465.8) rotate(-89.9) scale(0.948,1)">0.04</text>
<text class="a" transform="translate(288.1,507.0) rotate(-89.9) scale(0.948,1)">0.00</text>
<text class="t" style="font-size:14.2px" transform="translate(390.2,417.1) scale(0.967,1)">**</text>
</g>
<g>
<path class="g" d="M432.3,510.7 V400.0 M451.5,510.7 V400.0 M470.7,510.7 V400.0 M489.8,510.7 V400.0 M509.0,510.7 V400.0 M528.2,510.7 V400.0 M424.6,405.8 H535.5 M424.6,430.9 H535.5 M424.6,455.9 H535.5 M424.6,480.9 H535.5 M424.6,506.0 H535.5"/>
<rect x="428.8" y="438.90" width="103.0" height="3.95" fill="#f8766d"/>
<path class="l" d="M428.5,440.85 L532.1,440.85"/>
<rect class="b" x="424.6" y="400.0" width="110.8" height="110.7"/>
<path class="k" d="M418.1,405.8 H424.6 M418.1,430.9 H424.6 M418.1,455.9 H424.6 M418.1,480.9 H424.6 M418.1,506.0 H424.6"/>
<text class="a" transform="translate(416.9,405.8) rotate(-89.9) scale(0.948,1)">-2</text>
<text class="a" transform="translate(416.9,430.9) rotate(-89.9) scale(0.948,1)">-4</text>
<text class="a" transform="translate(416.9,455.9) rotate(-89.9) scale(0.948,1)">-6</text>
<text class="a" transform="translate(416.9,480.9) rotate(-89.9) scale(0.948,1)">-8</text>
<text class="a" transform="translate(416.9,506.0) rotate(-89.9) scale(0.948,1)">-10</text>
</g>
<g>
<path class="g" d="M561.0,510.7 V400.0 M580.2,510.7 V400.0 M599.4,510.7 V400.0 M618.5,510.7 V400.0 M637.7,510.7 V400.0 M656.9,510.7 V400.0 M553.3,404.9 H664.1 M553.3,428.1 H664.1 M553.3,451.3 H664.1 M553.3,474.5 H664.1 M553.3,497.7 H664.1"/>
<rect x="557.0" y="439.95" width="103.2" height="7.95" fill="#f8766d"/>
<path class="l" d="M556.7,443.75 L660.5,443.75"/>
<rect class="b" x="553.3" y="400.0" width="110.8" height="110.7"/>
<path class="k" d="M546.8,404.9 H553.3 M546.8,428.1 H553.3 M546.8,451.3 H553.3 M546.8,474.5 H553.3 M546.8,497.7 H553.3"/>
<text class="a" transform="translate(545.1,404.9) rotate(-89.9) scale(0.948,1)">-2</text>
<text class="a" transform="translate(545.1,428.1) rotate(-89.9) scale(0.948,1)">-3</text>
<text class="a" transform="translate(545.1,451.3) rotate(-89.9) scale(0.948,1)">-4</text>
<text class="a" transform="translate(545.1,474.5) rotate(-89.9) scale(0.948,1)">-5</text>
<text class="a" transform="translate(545.1,497.7) rotate(-89.9) scale(0.948,1)">-6</text>
<text class="t" transform="translate(679.8,455.4) rotate(-90) scale(0.967,1)">Repulsive</text>
</g>
<g>
<path class="g" d="M47.2,639.2 V528.5 M66.4,639.2 V528.5 M85.6,639.2 V528.5 M104.7,639.2 V528.5 M123.9,639.2 V528.5 M143.1,639.2 V528.5 M39.5,532.5 H150.3 M39.5,553.1 H150.3 M39.5,573.7 H150.3 M39.5,594.3 H150.3 M39.5,614.9 H150.3 M39.5,635.5 H150.3"/>
<rect x="43.0" y="595.50" width="103.2" height="8.40" fill="#eaa1c3"/>
<path class="l" d="M42.7,600.05 L146.5,600.05"/>
<rect x="43.2" y="635.9" width="0.7" height="3.3" fill="rgb(128,128,128)"/>
<rect x="45.0" y="635.9" width="0.8" height="3.3" fill="rgb(89,89,89)"/>
<rect x="56.8" y="635.9" width="1.3" height="3.3" fill="rgb(166,166,166)"/>
<rect x="61.3" y="635.9" width="0.8" height="3.3" fill="rgb(89,89,89)"/>
<rect x="62.6" y="635.9" width="0.8" height="3.3" fill="rgb(178,178,178)"/>
<rect x="65.0" y="635.9" width="0.8" height="3.3" fill="rgb(89,89,89)"/>
<rect x="66.0" y="635.9" width="1.5" height="3.3" fill="rgb(178,178,178)"/>
<rect x="68.0" y="635.9" width="1.5" height="3.3" fill="rgb(25,25,25)"/>
<rect x="69.5" y="635.9" width="1.1" height="3.3" fill="rgb(115,115,115)"/>
<rect x="74.1" y="635.9" width="1.3" height="3.3" fill="rgb(191,191,191)"/>
<rect x="76.0" y="635.9" width="2.3" height="3.3" fill="rgb(77,77,77)"/>
<rect x="78.3" y="635.9" width="2.4" height="3.3" fill="rgb(115,115,115)"/>
<rect x="80.9" y="635.9" width="2.2" height="3.3" fill="rgb(25,25,25)"/>
<rect x="83.1" y="635.9" width="2.6" height="3.3" fill="rgb(178,178,178)"/>
<rect x="86.1" y="635.9" width="2.2" height="3.3" fill="rgb(64,64,64)"/>
<rect x="88.3" y="635.9" width="1.3" height="3.3" fill="rgb(115,115,115)"/>
<rect x="89.9" y="635.9" width="1.9" height="3.3" fill="rgb(64,64,64)"/>
<rect x="91.8" y="635.9" width="1.1" height="3.3" fill="rgb(115,115,115)"/>
<rect x="92.9" y="635.9" width="2.0" height="3.3" fill="rgb(51,51,51)"/>
<rect x="94.9" y="635.9" width="1.1" height="3.3" fill="rgb(178,178,178)"/>
<rect x="96.2" y="635.9" width="2.6" height="3.3" fill="rgb(77,77,77)"/>
<rect x="99.0" y="635.9" width="2.0" height="3.3" fill="rgb(25,25,25)"/>
<rect x="101.2" y="635.9" width="2.2" height="3.3" fill="rgb(128,128,128)"/>
<rect x="103.6" y="635.9" width="1.8" height="3.3" fill="rgb(64,64,64)"/>
<rect x="105.4" y="635.9" width="1.5" height="3.3" fill="rgb(191,191,191)"/>
<rect x="107.1" y="635.9" width="2.7" height="3.3" fill="rgb(0,0,0)"/>
<rect x="112.4" y="635.9" width="1.1" height="3.3" fill="rgb(128,128,128)"/>
<rect x="113.5" y="635.9" width="2.0" height="3.3" fill="rgb(0,0,0)"/>
<rect x="115.7" y="635.9" width="2.8" height="3.3" fill="rgb(166,166,166)"/>
<rect x="118.5" y="635.9" width="1.1" height="3.3" fill="rgb(102,102,102)"/>
<rect x="119.8" y="635.9" width="2.2" height="3.3" fill="rgb(51,51,51)"/>
<rect x="122.0" y="635.9" width="1.3" height="3.3" fill="rgb(166,166,166)"/>
<rect x="123.5" y="635.9" width="1.1" height="3.3" fill="rgb(51,51,51)"/>
<rect x="127.0" y="635.9" width="1.6" height="3.3" fill="rgb(77,77,77)"/>
<rect x="128.6" y="635.9" width="1.1" height="3.3" fill="rgb(128,128,128)"/>
<rect x="129.9" y="635.9" width="0.6" height="3.3" fill="rgb(51,51,51)"/>
<rect x="134.0" y="635.9" width="1.6" height="3.3" fill="rgb(128,128,128)"/>
<rect x="138.9" y="635.9" width="1.1" height="3.3" fill="rgb(51,51,51)"/>
<rect x="141.3" y="635.9" width="2.6" height="3.3" fill="rgb(77,77,77)"/>
<rect x="144.8" y="635.9" width="2.2" height="3.3" fill="rgb(178,178,178)"/>
<rect class="b" x="39.5" y="528.5" width="110.8" height="110.7"/>
<path class="k" d="M33.0,532.5 H39.5 M33.0,553.1 H39.5 M33.0,573.7 H39.5 M33.0,594.3 H39.5 M33.0,614.9 H39.5 M33.0,635.5 H39.5 M47.2,639.2 V645.5 M66.4,639.2 V645.5 M85.6,639.2 V645.5 M104.7,639.2 V645.5 M123.9,639.2 V645.5 M143.1,639.2 V645.5"/>
<text class="a" transform="translate(30.9,553.1) rotate(-89.9) scale(0.948,1)">0.08</text>
<text class="a" transform="translate(30.9,594.3) rotate(-89.9) scale(0.948,1)">0.04</text>
<text class="a" transform="translate(30.9,635.5) rotate(-89.9) scale(0.948,1)">0.00</text>
<text class="a" transform="translate(47.2,654.5) rotate(0.1) scale(0.948,1)">3</text>
<text class="a" transform="translate(66.4,654.5) rotate(0.1) scale(0.948,1)">4</text>
<text class="a" transform="translate(85.6,654.5) rotate(0.1) scale(0.948,1)">5</text>
<text class="a" transform="translate(104.7,654.5) rotate(0.1) scale(0.948,1)">6</text>
<text class="a" transform="translate(123.9,654.5) rotate(0.1) scale(0.948,1)">7</text>
<text class="a" transform="translate(143.1,654.5) rotate(0.1) scale(0.948,1)">8</text>
</g>
<g>
<path class="g" d="M175.3,639.2 V528.5 M194.5,639.2 V528.5 M213.7,639.2 V528.5 M232.8,639.2 V528.5 M252.0,639.2 V528.5 M271.2,639.2 V528.5 M167.6,532.5 H278.4 M167.6,553.1 H278.4 M167.6,573.7 H278.4 M167.6,594.3 H278.4 M167.6,614.9 H278.4 M167.6,635.5 H278.4"/>
<rect x="171.9" y="617.90" width="103.0" height="3.20" fill="#eaa1c3"/>
<path class="l" d="M171.6,619.85 L275.2,619.85"/>
<rect x="171.3" y="635.9" width="0.7" height="3.3" fill="rgb(128,128,128)"/>
<rect x="173.1" y="635.9" width="0.8" height="3.3" fill="rgb(89,89,89)"/>
<rect x="184.9" y="635.9" width="1.3" height="3.3" fill="rgb(166,166,166)"/>
<rect x="189.4" y="635.9" width="0.8" height="3.3" fill="rgb(89,89,89)"/>
<rect x="190.7" y="635.9" width="0.8" height="3.3" fill="rgb(178,178,178)"/>
<rect x="193.1" y="635.9" width="0.8" height="3.3" fill="rgb(89,89,89)"/>
<rect x="194.1" y="635.9" width="1.5" height="3.3" fill="rgb(178,178,178)"/>
<rect x="196.1" y="635.9" width="1.5" height="3.3" fill="rgb(25,25,25)"/>
<rect x="197.6" y="635.9" width="1.1" height="3.3" fill="rgb(115,115,115)"/>
<rect x="202.2" y="635.9" width="1.3" height="3.3" fill="rgb(191,191,191)"/>
<rect x="204.1" y="635.9" width="2.3" height="3.3" fill="rgb(77,77,77)"/>
<rect x="206.4" y="635.9" width="2.4" height="3.3" fill="rgb(115,115,115)"/>
<rect x="209.0" y="635.9" width="2.2" height="3.3" fill="rgb(25,25,25)"/>
<rect x="211.2" y="635.9" width="2.6" height="3.3" fill="rgb(178,178,178)"/>
<rect x="214.2" y="635.9" width="2.2" height="3.3" fill="rgb(64,64,64)"/>
<rect x="216.4" y="635.9" width="1.3" height="3.3" fill="rgb(115,115,115)"/>
<rect x="218.0" y="635.9" width="1.9" height="3.3" fill="rgb(64,64,64)"/>
<rect x="219.9" y="635.9" width="1.1" height="3.3" fill="rgb(115,115,115)"/>
<rect x="221.0" y="635.9" width="2.0" height="3.3" fill="rgb(51,51,51)"/>
<rect x="223.0" y="635.9" width="1.1" height="3.3" fill="rgb(178,178,178)"/>
<rect x="224.3" y="635.9" width="2.6" height="3.3" fill="rgb(77,77,77)"/>
<rect x="227.1" y="635.9" width="2.0" height="3.3" fill="rgb(25,25,25)"/>
<rect x="229.3" y="635.9" width="2.2" height="3.3" fill="rgb(128,128,128)"/>
<rect x="231.7" y="635.9" width="1.8" height="3.3" fill="rgb(64,64,64)"/>
<rect x="233.5" y="635.9" width="1.5" height="3.3" fill="rgb(191,191,191)"/>
<rect x="235.2" y="635.9" width="2.7" height="3.3" fill="rgb(0,0,0)"/>
<rect x="240.5" y="635.9" width="1.1" height="3.3" fill="rgb(128,128,128)"/>
<rect x="241.6" y="635.9" width="2.0" height="3.3" fill="rgb(0,0,0)"/>
<rect x="243.8" y="635.9" width="2.8" height="3.3" fill="rgb(166,166,166)"/>
<rect x="246.6" y="635.9" width="1.1" height="3.3" fill="rgb(102,102,102)"/>
<rect x="247.9" y="635.9" width="2.2" height="3.3" fill="rgb(51,51,51)"/>
<rect x="250.1" y="635.9" width="1.3" height="3.3" fill="rgb(166,166,166)"/>
<rect x="251.6" y="635.9" width="1.1" height="3.3" fill="rgb(51,51,51)"/>
<rect x="255.1" y="635.9" width="1.6" height="3.3" fill="rgb(77,77,77)"/>
<rect x="256.7" y="635.9" width="1.1" height="3.3" fill="rgb(128,128,128)"/>
<rect x="258.0" y="635.9" width="0.6" height="3.3" fill="rgb(51,51,51)"/>
<rect x="262.1" y="635.9" width="1.6" height="3.3" fill="rgb(128,128,128)"/>
<rect x="267.0" y="635.9" width="1.1" height="3.3" fill="rgb(51,51,51)"/>
<rect x="269.4" y="635.9" width="2.6" height="3.3" fill="rgb(77,77,77)"/>
<rect x="272.9" y="635.9" width="2.2" height="3.3" fill="rgb(178,178,178)"/>
<rect class="b" x="167.6" y="528.5" width="110.8" height="110.7"/>
<path class="k" d="M161.1,532.5 H167.6 M161.1,553.1 H167.6 M161.1,573.7 H167.6 M161.1,594.3 H167.6 M161.1,614.9 H167.6 M161.1,635.5 H167.6 M175.3,639.2 V645.5 M194.5,639.2 V645.5 M213.7,639.2 V645.5 M232.8,639.2 V645.5 M252.0,639.2 V645.5 M271.2,639.2 V645.5"/>
<text class="a" transform="translate(159.9,553.1) rotate(-89.9) scale(0.948,1)">0.08</text>
<text class="a" transform="translate(159.9,594.3) rotate(-89.9) scale(0.948,1)">0.04</text>
<text class="a" transform="translate(159.9,635.5) rotate(-89.9) scale(0.948,1)">0.00</text>
<text class="a" transform="translate(175.3,654.5) rotate(0.1) scale(0.948,1)">3</text>
<text class="a" transform="translate(194.5,654.5) rotate(0.1) scale(0.948,1)">4</text>
<text class="a" transform="translate(213.7,654.5) rotate(0.1) scale(0.948,1)">5</text>
<text class="a" transform="translate(232.8,654.5) rotate(0.1) scale(0.948,1)">6</text>
<text class="a" transform="translate(252.0,654.5) rotate(0.1) scale(0.948,1)">7</text>
<text class="a" transform="translate(271.2,654.5) rotate(0.1) scale(0.948,1)">8</text>
</g>
<g>
<path class="g" d="M304.1,639.2 V528.5 M323.3,639.2 V528.5 M342.5,639.2 V528.5 M361.6,639.2 V528.5 M380.8,639.2 V528.5 M400.0,639.2 V528.5 M296.4,532.5 H407.2 M296.4,553.1 H407.2 M296.4,573.7 H407.2 M296.4,594.3 H407.2 M296.4,614.9 H407.2 M296.4,635.5 H407.2"/>
<rect x="300.0" y="601.10" width="103.1" height="5.75" fill="#eaa1c3"/>
<path class="l" d="M299.7,604.20 L403.4,604.20"/>
<rect x="300.1" y="635.9" width="0.7" height="3.3" fill="rgb(128,128,128)"/>
<rect x="301.9" y="635.9" width="0.8" height="3.3" fill="rgb(89,89,89)"/>
<rect x="313.7" y="635.9" width="1.3" height="3.3" fill="rgb(166,166,166)"/>
<rect x="318.2" y="635.9" width="0.8" height="3.3" fill="rgb(89,89,89)"/>
<rect x="319.5" y="635.9" width="0.8" height="3.3" fill="rgb(178,178,178)"/>
<rect x="321.9" y="635.9" width="0.8" height="3.3" fill="rgb(89,89,89)"/>
<rect x="322.9" y="635.9" width="1.5" height="3.3" fill="rgb(178,178,178)"/>
<rect x="324.9" y="635.9" width="1.5" height="3.3" fill="rgb(25,25,25)"/>
<rect x="326.4" y="635.9" width="1.1" height="3.3" fill="rgb(115,115,115)"/>
<rect x="331.0" y="635.9" width="1.3" height="3.3" fill="rgb(191,191,191)"/>
<rect x="332.9" y="635.9" width="2.3" height="3.3" fill="rgb(77,77,77)"/>
<rect x="335.2" y="635.9" width="2.4" height="3.3" fill="rgb(115,115,115)"/>
<rect x="337.8" y="635.9" width="2.2" height="3.3" fill="rgb(25,25,25)"/>
<rect x="340.0" y="635.9" width="2.6" height="3.3" fill="rgb(178,178,178)"/>
<rect x="343.0" y="635.9" width="2.2" height="3.3" fill="rgb(64,64,64)"/>
<rect x="345.2" y="635.9" width="1.3" height="3.3" fill="rgb(115,115,115)"/>
<rect x="346.8" y="635.9" width="1.9" height="3.3" fill="rgb(64,64,64)"/>
<rect x="348.7" y="635.9" width="1.1" height="3.3" fill="rgb(115,115,115)"/>
<rect x="349.8" y="635.9" width="2.0" height="3.3" fill="rgb(51,51,51)"/>
<rect x="351.8" y="635.9" width="1.1" height="3.3" fill="rgb(178,178,178)"/>
<rect x="353.1" y="635.9" width="2.6" height="3.3" fill="rgb(77,77,77)"/>
<rect x="355.9" y="635.9" width="2.0" height="3.3" fill="rgb(25,25,25)"/>
<rect x="358.1" y="635.9" width="2.2" height="3.3" fill="rgb(128,128,128)"/>
<rect x="360.5" y="635.9" width="1.8" height="3.3" fill="rgb(64,64,64)"/>
<rect x="362.3" y="635.9" width="1.5" height="3.3" fill="rgb(191,191,191)"/>
<rect x="364.0" y="635.9" width="2.7" height="3.3" fill="rgb(0,0,0)"/>
<rect x="369.3" y="635.9" width="1.1" height="3.3" fill="rgb(128,128,128)"/>
<rect x="370.4" y="635.9" width="2.0" height="3.3" fill="rgb(0,0,0)"/>
<rect x="372.6" y="635.9" width="2.8" height="3.3" fill="rgb(166,166,166)"/>
<rect x="375.4" y="635.9" width="1.1" height="3.3" fill="rgb(102,102,102)"/>
<rect x="376.7" y="635.9" width="2.2" height="3.3" fill="rgb(51,51,51)"/>
<rect x="378.9" y="635.9" width="1.3" height="3.3" fill="rgb(166,166,166)"/>
<rect x="380.4" y="635.9" width="1.1" height="3.3" fill="rgb(51,51,51)"/>
<rect x="383.9" y="635.9" width="1.6" height="3.3" fill="rgb(77,77,77)"/>
<rect x="385.5" y="635.9" width="1.1" height="3.3" fill="rgb(128,128,128)"/>
<rect x="386.8" y="635.9" width="0.6" height="3.3" fill="rgb(51,51,51)"/>
<rect x="390.9" y="635.9" width="1.6" height="3.3" fill="rgb(128,128,128)"/>
<rect x="395.8" y="635.9" width="1.1" height="3.3" fill="rgb(51,51,51)"/>
<rect x="398.2" y="635.9" width="2.6" height="3.3" fill="rgb(77,77,77)"/>
<rect x="401.7" y="635.9" width="2.2" height="3.3" fill="rgb(178,178,178)"/>
<rect class="b" x="296.4" y="528.5" width="110.8" height="110.7"/>
<path class="k" d="M289.9,532.5 H296.4 M289.9,553.1 H296.4 M289.9,573.7 H296.4 M289.9,594.3 H296.4 M289.9,614.9 H296.4 M289.9,635.5 H296.4 M304.1,639.2 V645.5 M323.3,639.2 V645.5 M342.5,639.2 V645.5 M361.6,639.2 V645.5 M380.8,639.2 V645.5 M400.0,639.2 V645.5"/>
<text class="a" transform="translate(288.1,553.1) rotate(-89.9) scale(0.948,1)">0.08</text>
<text class="a" transform="translate(288.1,594.3) rotate(-89.9) scale(0.948,1)">0.04</text>
<text class="a" transform="translate(288.1,635.5) rotate(-89.9) scale(0.948,1)">0.00</text>
<text class="a" transform="translate(304.1,654.5) rotate(0.1) scale(0.948,1)">3</text>
<text class="a" transform="translate(323.3,654.5) rotate(0.1) scale(0.948,1)">4</text>
<text class="a" transform="translate(342.5,654.5) rotate(0.1) scale(0.948,1)">5</text>
<text class="a" transform="translate(361.6,654.5) rotate(0.1) scale(0.948,1)">6</text>
<text class="a" transform="translate(380.8,654.5) rotate(0.1) scale(0.948,1)">7</text>
<text class="a" transform="translate(400.0,654.5) rotate(0.1) scale(0.948,1)">8</text>
</g>
<g>
<path class="g" d="M432.3,639.2 V528.5 M451.5,639.2 V528.5 M470.7,639.2 V528.5 M489.8,639.2 V528.5 M509.0,639.2 V528.5 M528.2,639.2 V528.5 M424.6,534.3 H535.5 M424.6,559.4 H535.5 M424.6,584.4 H535.5 M424.6,609.5 H535.5 M424.6,634.5 H535.5"/>
<path fill="#eaa1c3" d="M428.8,563.17 L430.6,563.35 L432.3,563.53 L434.1,563.70 L435.8,563.88 L437.5,564.05 L439.3,564.22 L441.0,564.39 L442.8,564.55 L444.5,564.71 L446.3,564.86 L448.0,565.01 L449.8,565.15 L451.5,565.29 L453.2,565.42 L455.0,565.54 L456.7,565.66 L458.5,565.77 L460.2,565.87 L462.0,565.98 L463.7,566.07 L465.5,566.17 L467.2,566.26 L468.9,566.35 L470.7,566.44 L472.4,566.52 L474.2,566.61 L475.9,566.68 L477.7,566.76 L479.4,566.82 L481.2,566.88 L482.9,566.93 L484.6,566.97 L486.4,567.00 L488.1,567.01 L489.9,567.01 L491.6,567.00 L493.4,566.97 L495.1,566.93 L496.9,566.88 L498.6,566.82 L500.3,566.76 L502.1,566.70 L503.8,566.63 L505.6,566.57 L507.3,566.50 L509.1,566.43 L510.8,566.37 L512.6,566.30 L514.3,566.23 L516.0,566.16 L517.8,566.09 L519.5,566.02 L521.3,565.94 L523.0,565.87 L524.8,565.79 L526.5,565.71 L528.3,565.64 L530.0,565.56 L531.8,565.48 L531.8,574.89 L530.0,574.72 L528.3,574.55 L526.5,574.38 L524.8,574.22 L523.0,574.05 L521.3,573.89 L519.5,573.73 L517.8,573.57 L516.0,573.41 L514.3,573.26 L512.6,573.10 L510.8,572.94 L509.1,572.77 L507.3,572.61 L505.6,572.44 L503.8,572.28 L502.1,572.12 L500.3,571.98 L498.6,571.85 L496.9,571.73 L495.1,571.64 L493.4,571.55 L491.6,571.49 L489.9,571.44 L488.1,571.40 L486.4,571.38 L484.6,571.37 L482.9,571.37 L481.2,571.39 L479.4,571.41 L477.7,571.44 L475.9,571.48 L474.2,571.52 L472.4,571.57 L470.7,571.62 L468.9,571.68 L467.2,571.73 L465.5,571.79 L463.7,571.85 L462.0,571.91 L460.2,571.98 L458.5,572.04 L456.7,572.10 L455.0,572.17 L453.2,572.23 L451.5,572.29 L449.8,572.36 L448.0,572.42 L446.3,572.48 L444.5,572.54 L442.8,572.60 L441.0,572.66 L439.3,572.72 L437.5,572.77 L435.8,572.83 L434.1,572.89 L432.3,572.95 L430.6,573.00 L428.8,573.06 Z"/>
<path class="l" d="M428.8,568.36 L531.8,570.28"/>
<rect x="428.3" y="635.9" width="0.7" height="3.3" fill="rgb(128,128,128)"/>
<rect x="430.1" y="635.9" width="0.8" height="3.3" fill="rgb(89,89,89)"/>
<rect x="441.9" y="635.9" width="1.3" height="3.3" fill="rgb(166,166,166)"/>
<rect x="446.4" y="635.9" width="0.8" height="3.3" fill="rgb(89,89,89)"/>
<rect x="447.7" y="635.9" width="0.8" height="3.3" fill="rgb(178,178,178)"/>
<rect x="450.1" y="635.9" width="0.8" height="3.3" fill="rgb(89,89,89)"/>
<rect x="451.1" y="635.9" width="1.5" height="3.3" fill="rgb(178,178,178)"/>
<rect x="453.1" y="635.9" width="1.5" height="3.3" fill="rgb(25,25,25)"/>
<rect x="454.6" y="635.9" width="1.1" height="3.3" fill="rgb(115,115,115)"/>
<rect x="459.2" y="635.9" width="1.3" height="3.3" fill="rgb(191,191,191)"/>
<rect x="461.1" y="635.9" width="2.3" height="3.3" fill="rgb(77,77,77)"/>
<rect x="463.4" y="635.9" width="2.4" height="3.3" fill="rgb(115,115,115)"/>
<rect x="466.0" y="635.9" width="2.2" height="3.3" fill="rgb(25,25,25)"/>
<rect x="468.2" y="635.9" width="2.6" height="3.3" fill="rgb(178,178,178)"/>
<rect x="471.2" y="635.9" width="2.2" height="3.3" fill="rgb(64,64,64)"/>
<rect x="473.4" y="635.9" width="1.3" height="3.3" fill="rgb(115,115,115)"/>
<rect x="475.0" y="635.9" width="1.9" height="3.3" fill="rgb(64,64,64)"/>
<rect x="476.9" y="635.9" width="1.1" height="3.3" fill="rgb(115,115,115)"/>
<rect x="478.0" y="635.9" width="2.0" height="3.3" fill="rgb(51,51,51)"/>
<rect x="480.0" y="635.9" width="1.1" height="3.3" fill="rgb(178,178,178)"/>
<rect x="481.3" y="635.9" width="2.6" height="3.3" fill="rgb(77,77,77)"/>
<rect x="484.1" y="635.9" width="2.0" height="3.3" fill="rgb(25,25,25)"/>
<rect x="486.3" y="635.9" width="2.2" height="3.3" fill="rgb(128,128,128)"/>
<rect x="488.7" y="635.9" width="1.8" height="3.3" fill="rgb(64,64,64)"/>
<rect x="490.5" y="635.9" width="1.5" height="3.3" fill="rgb(191,191,191)"/>
<rect x="492.2" y="635.9" width="2.7" height="3.3" fill="rgb(0,0,0)"/>
<rect x="497.5" y="635.9" width="1.1" height="3.3" fill="rgb(128,128,128)"/>
<rect x="498.6" y="635.9" width="2.0" height="3.3" fill="rgb(0,0,0)"/>
<rect x="500.8" y="635.9" width="2.8" height="3.3" fill="rgb(166,166,166)"/>
<rect x="503.6" y="635.9" width="1.1" height="3.3" fill="rgb(102,102,102)"/>
<rect x="504.9" y="635.9" width="2.2" height="3.3" fill="rgb(51,51,51)"/>
<rect x="507.1" y="635.9" width="1.3" height="3.3" fill="rgb(166,166,166)"/>
<rect x="508.6" y="635.9" width="1.1" height="3.3" fill="rgb(51,51,51)"/>
<rect x="512.1" y="635.9" width="1.6" height="3.3" fill="rgb(77,77,77)"/>
<rect x="513.7" y="635.9" width="1.1" height="3.3" fill="rgb(128,128,128)"/>
<rect x="515.0" y="635.9" width="0.6" height="3.3" fill="rgb(51,51,51)"/>
<rect x="519.1" y="635.9" width="1.6" height="3.3" fill="rgb(128,128,128)"/>
<rect x="524.0" y="635.9" width="1.1" height="3.3" fill="rgb(51,51,51)"/>
<rect x="526.4" y="635.9" width="2.6" height="3.3" fill="rgb(77,77,77)"/>
<rect x="529.9" y="635.9" width="2.2" height="3.3" fill="rgb(178,178,178)"/>
<rect class="b" x="424.6" y="528.5" width="110.8" height="110.7"/>
<path class="k" d="M418.1,534.3 H424.6 M418.1,559.4 H424.6 M418.1,584.4 H424.6 M418.1,609.5 H424.6 M418.1,634.5 H424.6 M432.3,639.2 V645.5 M451.5,639.2 V645.5 M470.7,639.2 V645.5 M489.8,639.2 V645.5 M509.0,639.2 V645.5 M528.2,639.2 V645.5"/>
<text class="a" transform="translate(416.9,534.3) rotate(-89.9) scale(0.948,1)">-2</text>
<text class="a" transform="translate(416.9,559.4) rotate(-89.9) scale(0.948,1)">-4</text>
<text class="a" transform="translate(416.9,584.4) rotate(-89.9) scale(0.948,1)">-6</text>
<text class="a" transform="translate(416.9,609.5) rotate(-89.9) scale(0.948,1)">-8</text>
<text class="a" transform="translate(416.9,634.5) rotate(-89.9) scale(0.948,1)">-10</text>
<text class="a" transform="translate(432.3,654.5) rotate(0.1) scale(0.948,1)">3</text>
<text class="a" transform="translate(451.5,654.5) rotate(0.1) scale(0.948,1)">4</text>
<text class="a" transform="translate(470.7,654.5) rotate(0.1) scale(0.948,1)">5</text>
<text class="a" transform="translate(489.8,654.5) rotate(0.1) scale(0.948,1)">6</text>
<text class="a" transform="translate(509.0,654.5) rotate(0.1) scale(0.948,1)">7</text>
<text class="a" transform="translate(528.2,654.5) rotate(0.1) scale(0.948,1)">8</text>
</g>
<g>
<path class="g" d="M561.0,639.2 V528.5 M580.2,639.2 V528.5 M599.4,639.2 V528.5 M618.5,639.2 V528.5 M637.7,639.2 V528.5 M656.9,639.2 V528.5 M553.3,533.4 H664.1 M553.3,556.6 H664.1 M553.3,579.8 H664.1 M553.3,603.0 H664.1 M553.3,626.2 H664.1"/>
<rect x="557.0" y="568.10" width="103.2" height="7.80" fill="#eaa1c3"/>
<path class="l" d="M556.7,572.25 L660.5,572.25"/>
<rect x="557.0" y="635.9" width="0.7" height="3.3" fill="rgb(128,128,128)"/>
<rect x="558.8" y="635.9" width="0.8" height="3.3" fill="rgb(89,89,89)"/>
<rect x="570.6" y="635.9" width="1.3" height="3.3" fill="rgb(166,166,166)"/>
<rect x="575.1" y="635.9" width="0.8" height="3.3" fill="rgb(89,89,89)"/>
<rect x="576.4" y="635.9" width="0.8" height="3.3" fill="rgb(178,178,178)"/>
<rect x="578.8" y="635.9" width="0.8" height="3.3" fill="rgb(89,89,89)"/>
<rect x="579.8" y="635.9" width="1.5" height="3.3" fill="rgb(178,178,178)"/>
<rect x="581.8" y="635.9" width="1.5" height="3.3" fill="rgb(25,25,25)"/>
<rect x="583.3" y="635.9" width="1.1" height="3.3" fill="rgb(115,115,115)"/>
<rect x="587.9" y="635.9" width="1.3" height="3.3" fill="rgb(191,191,191)"/>
<rect x="589.8" y="635.9" width="2.3" height="3.3" fill="rgb(77,77,77)"/>
<rect x="592.1" y="635.9" width="2.4" height="3.3" fill="rgb(115,115,115)"/>
<rect x="594.7" y="635.9" width="2.2" height="3.3" fill="rgb(25,25,25)"/>
<rect x="596.9" y="635.9" width="2.6" height="3.3" fill="rgb(178,178,178)"/>
<rect x="599.9" y="635.9" width="2.2" height="3.3" fill="rgb(64,64,64)"/>
<rect x="602.1" y="635.9" width="1.3" height="3.3" fill="rgb(115,115,115)"/>
<rect x="603.7" y="635.9" width="1.9" height="3.3" fill="rgb(64,64,64)"/>
<rect x="605.6" y="635.9" width="1.1" height="3.3" fill="rgb(115,115,115)"/>
<rect x="606.7" y="635.9" width="2.0" height="3.3" fill="rgb(51,51,51)"/>
<rect x="608.7" y="635.9" width="1.1" height="3.3" fill="rgb(178,178,178)"/>
<rect x="610.0" y="635.9" width="2.6" height="3.3" fill="rgb(77,77,77)"/>
<rect x="612.8" y="635.9" width="2.0" height="3.3" fill="rgb(25,25,25)"/>
<rect x="615.0" y="635.9" width="2.2" height="3.3" fill="rgb(128,128,128)"/>
<rect x="617.4" y="635.9" width="1.8" height="3.3" fill="rgb(64,64,64)"/>
<rect x="619.2" y="635.9" width="1.5" height="3.3" fill="rgb(191,191,191)"/>
<rect x="620.9" y="635.9" width="2.7" height="3.3" fill="rgb(0,0,0)"/>
<rect x="626.2" y="635.9" width="1.1" height="3.3" fill="rgb(128,128,128)"/>
<rect x="627.3" y="635.9" width="2.0" height="3.3" fill="rgb(0,0,0)"/>
<rect x="629.5" y="635.9" width="2.8" height="3.3" fill="rgb(166,166,166)"/>
<rect x="632.3" y="635.9" width="1.1" height="3.3" fill="rgb(102,102,102)"/>
<rect x="633.6" y="635.9" width="2.2" height="3.3" fill="rgb(51,51,51)"/>
<rect x="635.8" y="635.9" width="1.3" height="3.3" fill="rgb(166,166,166)"/>
<rect x="637.3" y="635.9" width="1.1" height="3.3" fill="rgb(51,51,51)"/>
<rect x="640.8" y="635.9" width="1.6" height="3.3" fill="rgb(77,77,77)"/>
<rect x="642.4" y="635.9" width="1.1" height="3.3" fill="rgb(128,128,128)"/>
<rect x="643.7" y="635.9" width="0.6" height="3.3" fill="rgb(51,51,51)"/>
<rect x="647.8" y="635.9" width="1.6" height="3.3" fill="rgb(128,128,128)"/>
<rect x="652.7" y="635.9" width="1.1" height="3.3" fill="rgb(51,51,51)"/>
<rect x="655.1" y="635.9" width="2.6" height="3.3" fill="rgb(77,77,77)"/>
<rect x="658.6" y="635.9" width="2.2" height="3.3" fill="rgb(178,178,178)"/>
<rect class="b" x="553.3" y="528.5" width="110.8" height="110.7"/>
<path class="k" d="M546.8,533.4 H553.3 M546.8,556.6 H553.3 M546.8,579.8 H553.3 M546.8,603.0 H553.3 M546.8,626.2 H553.3 M561.0,639.2 V645.5 M580.2,639.2 V645.5 M599.4,639.2 V645.5 M618.5,639.2 V645.5 M637.7,639.2 V645.5 M656.9,639.2 V645.5"/>
<text class="a" transform="translate(545.1,533.4) rotate(-89.9) scale(0.948,1)">-2</text>
<text class="a" transform="translate(545.1,556.6) rotate(-89.9) scale(0.948,1)">-3</text>
<text class="a" transform="translate(545.1,579.8) rotate(-89.9) scale(0.948,1)">-4</text>
<text class="a" transform="translate(545.1,603.0) rotate(-89.9) scale(0.948,1)">-5</text>
<text class="a" transform="translate(545.1,626.2) rotate(-89.9) scale(0.948,1)">-6</text>
<text class="a" transform="translate(561.0,654.5) rotate(0.1) scale(0.948,1)">3</text>
<text class="a" transform="translate(580.2,654.5) rotate(0.1) scale(0.948,1)">4</text>
<text class="a" transform="translate(599.4,654.5) rotate(0.1) scale(0.948,1)">5</text>
<text class="a" transform="translate(618.5,654.5) rotate(0.1) scale(0.948,1)">6</text>
<text class="a" transform="translate(637.7,654.5) rotate(0.1) scale(0.948,1)">7</text>
<text class="a" transform="translate(656.9,654.5) rotate(0.1) scale(0.948,1)">8</text>
<text class="t" transform="translate(679.8,583.9) rotate(-90) scale(0.967,1)">Mixed</text>
</g>
<text class="t" transform="translate(343,671.8) scale(0.967,1)">Ln of forest patch isolation index</text>
<text class="t" transform="translate(13.8,335.5) rotate(-90) scale(0.9705,1)">Predicted abundance index of song thrush and its changes (partial effects)</text>
</svg>
</body>
</html>
